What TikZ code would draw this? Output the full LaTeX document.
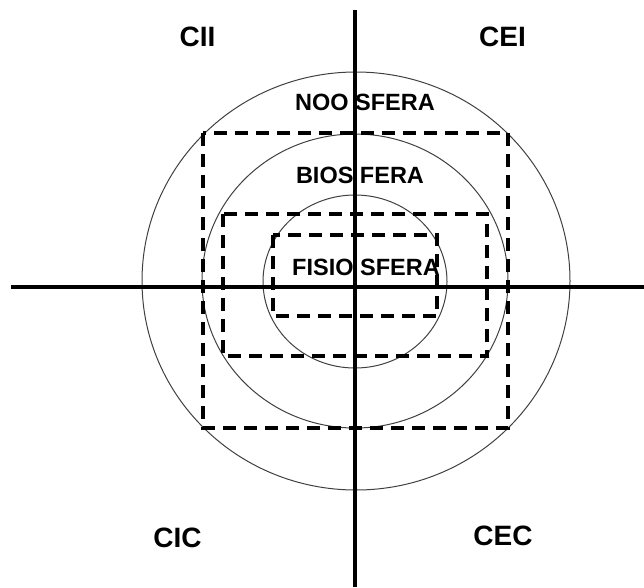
\documentclass[tikz,border=0pt]{standalone}
\usepackage{fontspec}
\setmainfont{Liberation Sans}
\tikzset{
  axisln/.style={draw=black,line width=4.5pt},
  orb/.style={draw=black!75,line width=1pt},
  zone/.style={draw=black,line width=3.4pt,dash pattern=on 13pt off 8pt},
  sfera/.style={font=\fontsize{23.5}{28}\selectfont\bfseries,inner sep=0pt},
  quad/.style={font=\fontsize{28}{33}\selectfont\bfseries,inner sep=0pt},
}
\begin{document}
\begin{tikzpicture}[x=1pt,y=-1pt]
  \useasboundingbox (0,0) rectangle (644,587);
  % spheres
  \draw[orb] (356,281) ellipse [x radius=214, y radius=209];
  \draw[orb] (355,281) ellipse [x radius=153, y radius=147];
  \draw[orb] (355,281.5) ellipse [x radius=92, y radius=86.5];
  % dashed zones
  \draw[zone] (203,133) rectangle (508,428);
  \draw[zone] (223,214) rectangle (487,356);
  \draw[zone] (273,235) rectangle (437,316);
  % labels
  \node[sfera] (noo) at (365,102) {NOO SFERA};
  \node[sfera] (bio) at (360,175) {BIOS FERA};
  \node[sfera] (fisio) at (366,267) {FISIO SFERA};
  \node[quad] (cii) at (197.5,36.5) {CII};
  \node[quad] (cei) at (502.5,37) {CEI};
  \node[quad] (cic) at (177.5,537.5) {CIC};
  \node[quad] (cec) at (503,536) {CEC};
  % axes
  \draw[axisln] (355,10) -- (355,587);
  \draw[axisln] (11,287) -- (644,287);
\end{tikzpicture}
\end{document}
